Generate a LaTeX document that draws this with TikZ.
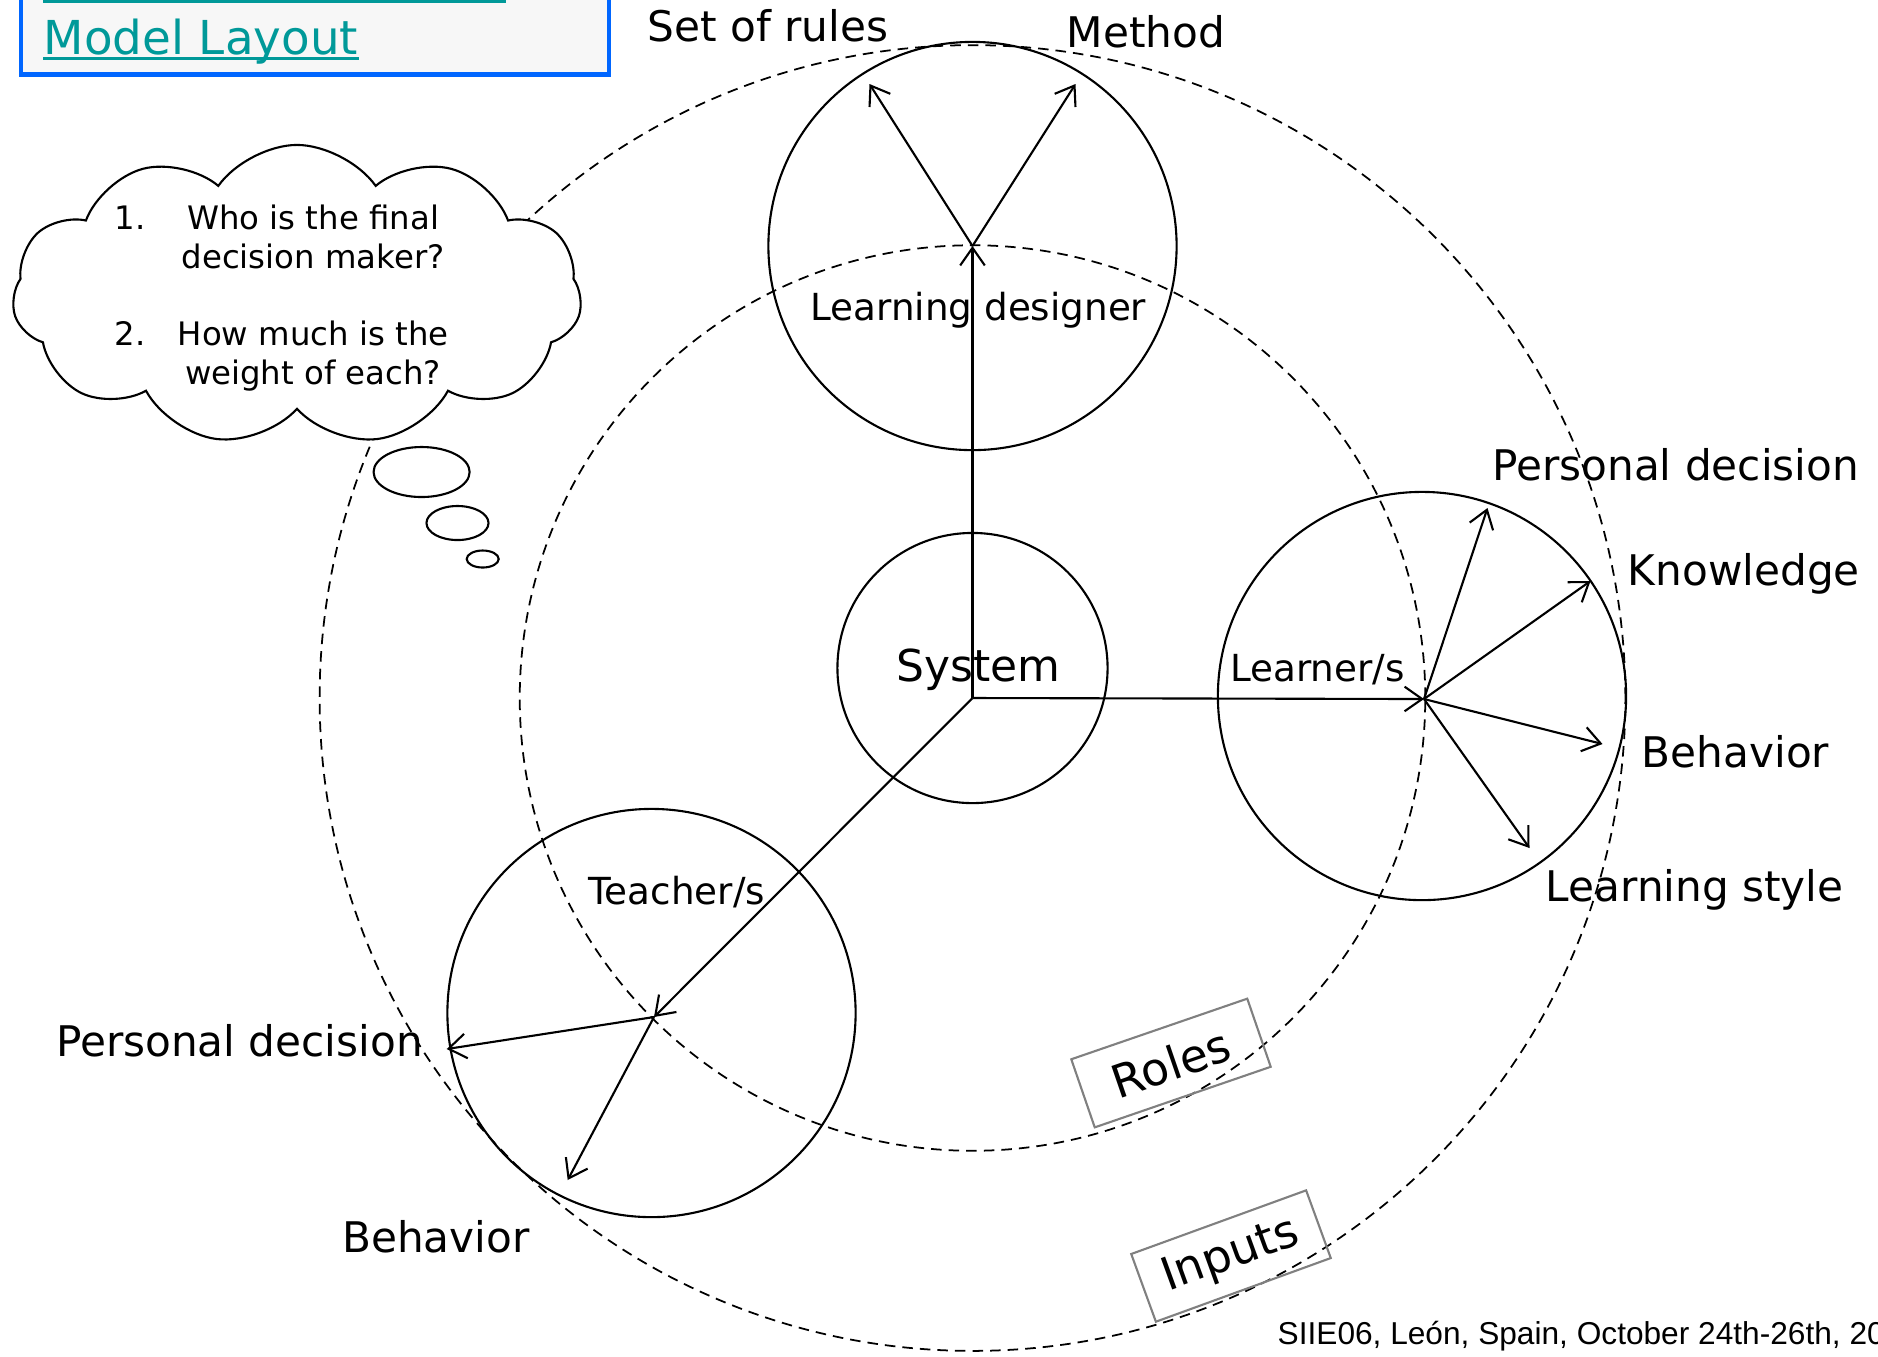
\documentclass[tikz,border=0pt]{standalone}
\usepackage{fontspec}
\setmainfont{DejaVu Sans}
\newfontfamily\footfont{Liberation Sans}
\usetikzlibrary{arrows.meta,shapes.symbols}
\definecolor{titleblue}{RGB}{0,102,255}
\definecolor{titleteal}{RGB}{0,153,153}
\definecolor{titlefill}{RGB}{247,247,247}
\definecolor{boxgray}{RGB}{128,128,128}
\begin{document}
\begin{tikzpicture}[x = .01cm, y = -.01cm,
		ring/.style = {draw, circle, inner sep = 0pt, outer sep = 0pt, line width = .5pt, dash pattern = on 3pt off 2pt},
		role/.style = {draw, circle, inner sep = 0pt, outer sep = 0pt, line width = .6pt, minimum size = 4.08cm},
		link/.style = {-{Straight Barb[length = 5pt, width = 7pt]}, line width = .6pt},
		outlbl/.style = {font = \fontsize{12}{14}\selectfont},
		inlbl/.style = {font = \fontsize{10.6}{12}\selectfont},
		framebox/.style = {draw = boxgray, line width = .6pt, minimum width = 1.86cm, minimum height = .72cm, font = \fontsize{13}{15}\selectfont}]
	\useasboundingbox (0,0) rectangle (1878,1356);
	\node[ring, minimum size = 13.05cm] (inputs) at (972.5,698) {}; %outer ring
	\node[ring, minimum size = 9.05cm] (roles) at (972.5,698) {}; %inner ring
	\node[role] (designer) at (972.5,246) {};
	\node[role] (learner) at (1422,696) {};
	\node[role] (teacher) at (651.5,1013) {};
	\node[draw, circle, line width = .6pt, minimum size = 2.7cm, inner sep = 0pt] (system) at (972.5,668) {};
	\coordinate (hub) at (972.5,698);
	\coordinate (dhub) at (972.5,246);
	\coordinate (lhub) at (1424,699);
	\coordinate (thub) at (654,1017);
	\coordinate (rules) at (869.5,84);
	\coordinate (method) at (1075.5,84);
	\coordinate (ldec) at (1487.5,508);
	\coordinate (lknow) at (1590.5,581);
	\coordinate (lbeh) at (1602.5,744);
	\coordinate (lstyle) at (1529.5,848);
	\coordinate (tdec) at (446.7,1049);
	\coordinate (tbeh) at (567.7,1180);
	\draw[link] (hub) -- (dhub); %to designer
	\draw[link] (hub) -- (lhub); %to learner
	\draw[link] (hub) -- (thub); %to teacher
	\draw[link] (dhub) -- (rules);
	\draw[link] (dhub) -- (method);
	\draw[link] (lhub) -- (ldec);
	\draw[link] (lhub) -- (lknow);
	\draw[link] (lhub) -- (lbeh);
	\draw[link] (lhub) -- (lstyle);
	\draw[link] (thub) -- (tdec);
	\draw[link] (thub) -- (tbeh);
	\node[outlbl] (lrules) at (768,26) {Set of rules};
	\node[outlbl] (lmethod) at (1146,32) {Method};
	\node[inlbl] (ldesigner) at (978.5,310) {Learning designer};
	\node[font = \fontsize{12.5}{14}\selectfont] (lsystem) at (978.5,670) {System};
	\node[inlbl] (llearner) at (1317.5,670) {Learner/s};
	\node[inlbl] (lteacher) at (676.7,892) {Teacher/s};
	\node[outlbl] (lldec) at (1675.6,465) {Personal decision};
	\node[outlbl] (llknow) at (1743.8,574) {Knowledge};
	\node[outlbl] (llbeh) at (1735.5,752) {Behavior};
	\node[outlbl] (llstyle) at (1694.7,890) {Learning style};
	\node[outlbl] (ltdec) at (239.5,1041) {Personal decision};
	\node[outlbl] (ltbeh) at (436,1237) {Behavior};
	\node[framebox, rotate = 19] (lroles) at (1171,1063) {Roles};
	\node[framebox, rotate = 20] (linputs) at (1231,1256) {Inputs};
	\node[cloud, draw, fill = white, cloud puffs = 11, cloud puff arc = 110, aspect = 1.9, minimum width = 5.69cm, minimum height = 3cm, inner sep = 0pt, line width = .6pt] (thought) at (297,295) {};
	\node[font = \fontsize{9.2}{11}\selectfont] (questions) at (281.5,299)
		{\begin{tabular}{@{}l@{\hspace{9.2pt}}c@{}}1. & Who is the final\\ & decision maker?\\[11pt] 2. & How much is the\\ & weight of each?\end{tabular}};
	\draw[line width = .6pt] (421.6,472) ellipse [x radius = .48cm, y radius = .25cm]; %bubbles
	\draw[line width = .6pt] (457.5,523) ellipse [x radius = .31cm, y radius = .17cm];
	\draw[line width = .6pt] (482.7,559) ellipse [x radius = .16cm, y radius = .085cm];
	\draw[titleblue, fill = titlefill, line width = 1.4pt] (21,-10) rectangle (609,74.5); %title box
	\draw[titleteal, line width = 1pt] (43,1) -- (506,1);
	\node[anchor = base west, inner sep = 0pt, text = titleteal, font = \fontsize{13.3}{15}\selectfont] (title) at (43,54) {Model Layout};
	\draw[titleteal, line width = 1pt] ([yshift = -1.3pt]title.base west) -- ([yshift = -1.3pt]title.base east);
	\node[anchor = base west, inner sep = 0pt, font = \footfont\fontsize{9}{11}\selectfont] (footer) at (1277,1344) {SIIE06, León, Spain, October 24th-26th, 20};
\end{tikzpicture}
\end{document}
